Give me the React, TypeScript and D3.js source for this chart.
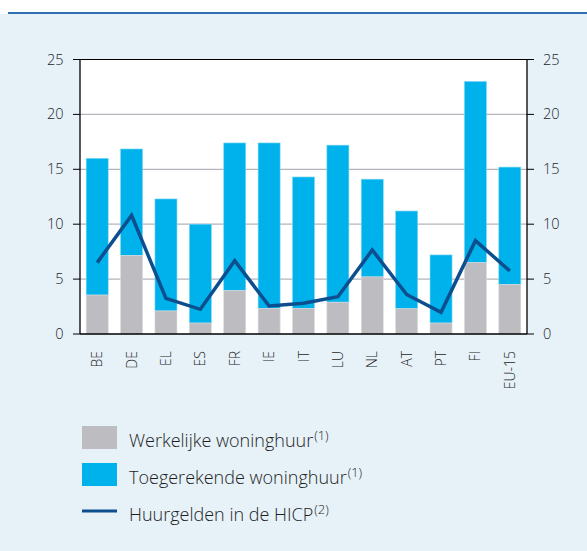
import React from "react";
import * as d3 from "d3";

const categories = ["BE", "DE", "EL", "ES", "FR", "IE", "IT", "LU", "NL", "AT", "PT", "FI", "EU-15"];
const actualRent = [3.55, 7.15, 2.1, 1.0, 3.95, 2.33, 2.33, 2.9, 5.2, 2.3, 1.0, 6.5, 4.5];
const totalRent = [16.0, 16.85, 12.3, 10.0, 17.4, 17.4, 14.3, 17.2, 14.1, 11.2, 7.2, 23.0, 15.2];
const hicpRent = [6.5, 10.8, 3.25, 2.25, 6.67, 2.55, 2.8, 3.4, 7.65, 3.6, 1.97, 8.5, 5.75];
const yTicks = [0, 5, 10, 15, 20, 25];
const legendItems = ["Werkelijke woninghuur", "Toegerekende woninghuur", "Huurgelden in de HICP"];
const legendNotes = ["(1)", "(1)", "(2)"];

const W = 587, H = 551;
const left = 80, right = 527, top = 59.5, bottom = 334;
const GRAY = "#bdbdc1", BLUE = "#00b2eb", LINE = "#0d4f8e", BG = "#e6f1f8";
const FONT = "'Open Sans', 'Noto Sans', sans-serif";
const TXT = "#1e1e1e";

export default function App() {
  const x = d3.scaleBand<string>().domain(categories).range([left, right]).paddingInner(0.36).paddingOuter(0.18);
  const y = d3.scaleLinear().domain([0, 25]).range([bottom, top]);
  const line = d3.line<number>().x((_, i) => (x(categories[i]) as number) + x.bandwidth() / 2).y((d) => y(d));

  return (
    <svg width={W} height={H} style={{ position: "absolute", left: 0, top: 0 }} fontFamily={FONT} fontWeight={300}>
      <rect x={0} y={0} width={W} height={H} fill="#ffffff" />
      <rect x={0} y={14} width={W} height={H - 14} fill={BG} />
      <line x1={8} x2={W} y1={13} y2={13} stroke="#2f6fb0" strokeWidth={2} />
      <rect x={left} y={top} width={right - left} height={bottom - top} fill="#ffffff" />
      {yTicks.filter((t) => t > 0 && t < 25).map((t) => (
        <line key={t} x1={left} x2={right} y1={y(t)} y2={y(t)} stroke="#b4b4bc" strokeWidth={1.3} />
      ))}
      {categories.map((c, i) => (
        <g key={c}>
          <rect x={x(c)} y={y(totalRent[i])} width={x.bandwidth()} height={y(actualRent[i]) - y(totalRent[i])} fill={BLUE} stroke="#7fd6f5" strokeWidth={0.6} />
          <rect x={x(c)} y={y(actualRent[i])} width={x.bandwidth()} height={bottom - y(actualRent[i])} fill={GRAY} stroke="#dcdcdf" strokeWidth={0.6} />
        </g>
      ))}
      <path d={line(hicpRent) as string} fill="none" stroke={LINE} strokeWidth={3.5} strokeLinejoin="miter" />
      <line x1={left} x2={right} y1={top} y2={top} stroke="#000" strokeWidth={1} />
      <line x1={left} x2={right} y1={bottom} y2={bottom} stroke="#000" strokeWidth={1.3} />
      <line x1={left} x2={left} y1={top} y2={bottom} stroke="#000" strokeWidth={1.3} />
      <line x1={right} x2={right} y1={top} y2={bottom} stroke="#000" strokeWidth={1.3} />
      {yTicks.map((t) => (
        <g key={t}>
          <line x1={left - 7} x2={left} y1={y(t)} y2={y(t)} stroke="#000" strokeWidth={1} />
          <line x1={right} x2={right + 7} y1={y(t)} y2={y(t)} stroke="#000" strokeWidth={1} />
          <text x={63.5} y={y(t)} dy="0.35em" textAnchor="end" fontSize={14.5} fill={TXT}>{t}</text>
          <text x={543} y={y(t)} dy="0.35em" textAnchor="start" fontSize={14.5} fill={TXT}>{t}</text>
        </g>
      ))}
      {categories.map((c) => {
        const cx = (x(c) as number) + x.bandwidth() / 2;
        return (
          <text key={c} transform={`translate(${cx},351) rotate(-90)`} dy="0.36em" textAnchor="end" fontSize={14} fill={TXT}>{c}</text>
        );
      })}
      {legendItems.map((label, i) => {
        const ly = 437.5 + i * 37;
        return (
          <g key={label}>
            {i < 2 ? (
              <rect x={82} y={ly - 11.5} width={35} height={23} fill={i === 0 ? GRAY : BLUE} />
            ) : (
              <line x1={82} x2={117} y1={ly - 0.5} y2={ly - 0.5} stroke={LINE} strokeWidth={3} />
            )}
            <text x={129} y={ly + 9} fontSize={18} fill={TXT}>
              {label}
              <tspan fontSize={13} dy="-7" dx="1">{legendNotes[i]}</tspan>
            </text>
          </g>
        );
      })}
    </svg>
  );
}
